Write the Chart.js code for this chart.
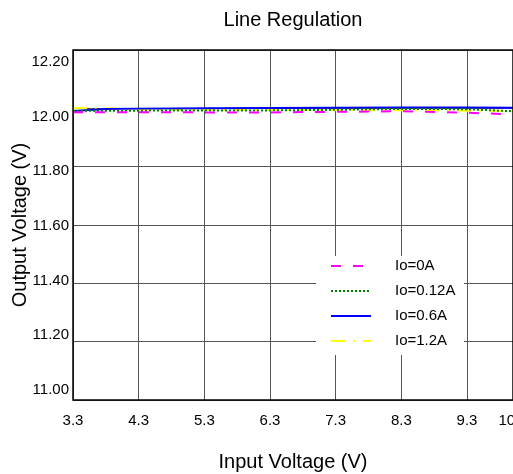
<!DOCTYPE html>
<html>
<head>
<meta charset="utf-8">
<script src="https://cdn.jsdelivr.net/npm/chart.js@4/dist/chart.umd.min.js"></script>
<style>
  html, body { margin: 0; padding: 0; background: #fff; }
  #wrap { width: 513px; height: 474px; }
</style>
</head>
<body>
<div id="wrap"><canvas id="chart"></canvas></div>
<script>
// input voltage (V)
var vin = [3.3, 3.8, 4.3, 5.3, 6.3, 7.3, 8.3, 9.3, 10];
// output voltage (V) per load
var vout_0A = [11.987, 11.987, 11.987, 11.986, 11.986, 11.988, 11.990, 11.985, 11.979];
var vout_012A = [11.991, 11.992, 11.992, 11.993, 11.993, 11.995, 11.998, 11.997, 11.990];
var vout_06A = [11.991, 11.998, 11.999, 12.000, 12.001, 12.002, 12.003, 12.003, 12.002];
var vout_12A = [12.001, 12.000, 11.996, 11.995, 11.994, 11.994, 11.993, 11.992, 11.991];
var xTicks = [3.3, 4.3, 5.3, 6.3, 7.3, 8.3, 9.3, 10];
var yTicks = [11.0, 11.2, 11.4, 11.6, 11.8, 12.0, 12.2];

function pts(ys) {
    return vin.map((x, i) => ({x: x, y: ys[i]}));
}

var series = [
    {label: "Io=0A", data: vout_0A, color: "#ff00ff", dash: [10, 12], width: 2},
    {label: "Io=0.12A", data: vout_012A, color: "#008000", dash: [2, 2], width: 2},
    {label: "Io=0.6A", data: vout_06A, color: "#0000ff", dash: [], width: 2},
    {label: "Io=1.2A", data: vout_12A, color: "#ffff00", dash: [14, 8, 2, 8], width: 2}
];

// legend inside the plot, on a white box
var boxLegend = {
    id: 'boxLegend',
    afterDraw(chart) {
        var ctx = chart.ctx;
        var a = chart.chartArea;
        var bx = a.right - 197, by = a.top + 206, bw = 148, bh = 99;
        ctx.save();
        ctx.fillStyle = "#fff";
        ctx.fillRect(bx, by, bw, bh);
        ctx.font = "15px 'Liberation Sans', Arial, sans-serif";
        ctx.textBaseline = "middle";
        series.forEach((s, i) => {
            var y = by + 10 + i * 25;
            ctx.strokeStyle = s.color;
            ctx.lineWidth = s.width;
            ctx.setLineDash(s.dash);
            ctx.beginPath();
            ctx.moveTo(bx + 15, y);
            ctx.lineTo(bx + 55, y);
            ctx.stroke();
            ctx.setLineDash([]);
            ctx.fillStyle = "#000";
            ctx.fillText(s.label, bx + 79, y);
        });
        ctx.restore();
    },
    afterDatasetsDraw(chart) {
        var ctx = chart.ctx;
        var a = chart.chartArea;
        ctx.save();
        ctx.strokeStyle = "#000";
        ctx.lineWidth = 1.5;
        ctx.strokeRect(a.left, a.top, a.right - a.left, a.bottom - a.top);
        ctx.restore();
    }
};

var font = {family: "'Liberation Sans', Arial, sans-serif", size: 15};
var titleFont = {family: "'Liberation Sans', Arial, sans-serif", size: 20, weight: 'normal'};

new Chart(document.getElementById("chart"), {
    type: 'line',
    data: {
        datasets: series.map(s => ({
            label: s.label,
            data: pts(s.data),
            borderColor: s.color,
            borderWidth: s.width,
            borderDash: s.dash,
            fill: false,
            pointRadius: 0,
            tension: 0
        }))
    },
    options: {
        responsive: true,
        maintainAspectRatio: false,
        animation: false,
        layout: {padding: 0},
        plugins: {
            legend: {display: false},
            tooltip: {enabled: false},
            title: {
                display: true,
                text: "Line Regulation",
                color: "#000",
                font: titleFont,
                fullSize: false,
                padding: {top: 8, bottom: 18}
            }
        },
        scales: {
            x: {
                type: 'linear',
                min: 3.3,
                max: 10,
                afterBuildTicks: axis => { axis.ticks = xTicks.map(v => ({value: v})); },
                afterFit: axis => { axis.height = 74; axis.paddingLeft = 0; axis.paddingRight = 0; },
                grid: {color: "#555", lineWidth: 1, drawTicks: false},
                border: {display: false},
                ticks: {
                    color: "#000",
                    font: font,
                    padding: 12,
                    maxRotation: 0,
                    // last label sits left of its gridline, inside the canvas
                    callback: v => v === 10 ? "10   " : String(v)
                },
                title: {display: true, text: "Input Voltage (V)", color: "#000", font: titleFont, padding: {top: 0, bottom: 0}}
            },
            y: {
                min: 11.0,
                max: 12.2,
                weight: 0,
                afterBuildTicks: axis => { axis.ticks = yTicks.map(v => ({value: v})); },
                afterFit: axis => { axis.width = 0; },
                grid: {color: "#555", lineWidth: 1, drawTicks: false},
                border: {display: false},
                ticks: {display: false}
            },
            yl: {
                position: 'left',
                min: 10.9633,
                max: 12.2439,
                weight: 10,
                afterBuildTicks: axis => { axis.ticks = yTicks.map(v => ({value: v})); },
                afterFit: axis => { axis.width = 73; },
                grid: {display: false, drawTicks: false},
                border: {display: false},
                ticks: {
                    color: "#000",
                    font: font,
                    padding: 4,
                    callback: v => Number(v).toFixed(2)
                },
                title: {display: true, text: "Output Voltage (V)", color: "#000", font: titleFont, padding: {top: 8, bottom: 0}}
            }
        }
    },
    plugins: [boxLegend]
});
</script>
</body>
</html>
